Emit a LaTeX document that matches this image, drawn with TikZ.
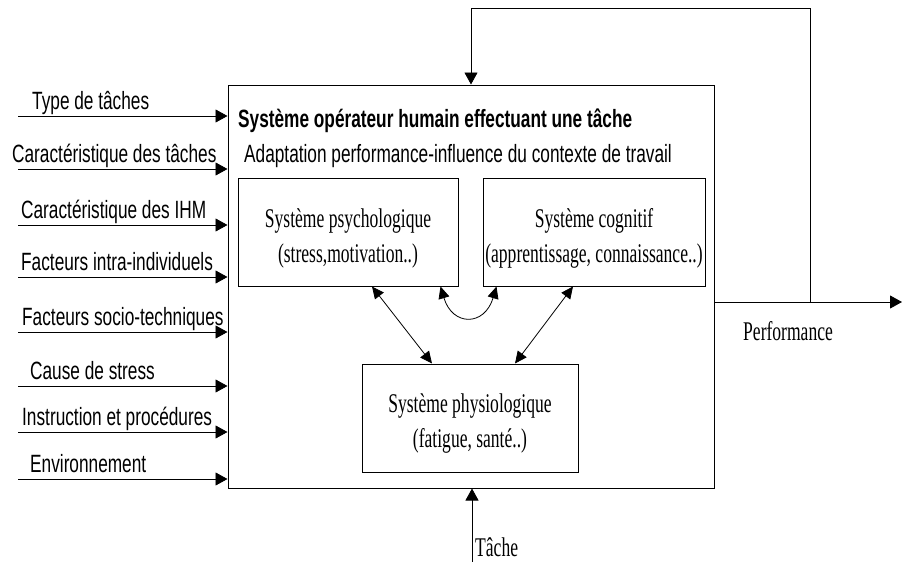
\documentclass[tikz,border=0pt]{standalone}
\usepackage{fontspec}
\newfontfamily\sansetroit{Liberation Sans}[FakeStretch=0.69]
\newfontfamily\serifetroit{Liberation Serif}[FakeStretch=0.65]
\usetikzlibrary{%
        arrows.meta%
    }

\begin{document}
\begin{tikzpicture}[x=1pt,y=-1pt,
    fleche/.style={-{Triangle[length=12pt,width=13pt]},line width=0.9pt},
    dfleche/.style={{Triangle[length=12pt,width=11pt]}-{Triangle[length=12pt,width=11pt]},line width=0.8pt},
    boite/.style={draw,line width=1pt,minimum height=108pt,inner sep=0pt},
    sans/.style={anchor=base west,inner sep=0pt,font=\sansetroit\fontsize{25}{29}\selectfont},
    serif/.style={anchor=base west,inner sep=0pt,font=\serifetroit\fontsize{27}{35}\selectfont},
    txt/.style={align=center,inner sep=0pt,yshift=-6pt,font=\serifetroit\fontsize{27}{35}\selectfont}]
  \useasboundingbox (0,0) rectangle (902,562);
  \node[boite,minimum width=486pt,minimum height=403pt] (sys) at (471,286.5) {};% operator system
  \node[anchor=base west,inner sep=0pt,font=\sansetroit\bfseries\fontsize{25}{29}\selectfont]
    (titre) at (238,127) {Système opérateur humain effectuant une tâche};
  \node[sans] (sous) at (244,162) {Adaptation performance-influence du contexte de travail};

  % sub-systems
  \node[boite,minimum width=220pt] (psych) at (348,232) {};
  \node[txt] (psychtxt) at (psych) {Système psychologique\\(stress,motivation..)};
  \node[boite,minimum width=222pt] (cog) at (594,232) {};
  \node[txt] (cogtxt) at (cog) {Système cognitif\\(apprentissage, connaissance..)};
  \node[boite,minimum width=216pt] (physio) at (470,418) {};
  \node[txt] (physiotxt) at (physio) {Système physiologique\\(fatigue, santé..)};

  \draw[dfleche] ([xshift=24pt]psych.south) -- ([xshift=-38pt]physio.north);
  \draw[dfleche] ([xshift=-21pt]cog.south) -- ([xshift=45pt]physio.north);
  \draw[dfleche] ([xshift=-18pt]psych.south east) .. controls +(12,40) and +(-12,40)
    .. ([xshift=14pt]cog.south west);

  % inputs
  \foreach \y/\x/\t [count=\i] in {116/32/Type de tâches,
      169/12/Caractéristique des tâches, 225/21/Caractéristique des IHM,
      277/21/Facteurs intra-individuels, 332/22/Facteurs socio-techniques,
      386/30/Cause de stress, 432/22/Instruction et procédures,
      479/30/Environnement}{
    \coordinate (e\i) at (18,\y);
    \draw[fleche] (e\i) -- (e\i -| sys.west);
    \node[sans] (lab\i) at (\x,\y-7) {\t};
  }

  % output and feedback
  \coordinate (sortie) at (902,302);
  \coordinate (retour) at (810,302);
  \coordinate (haut) at (810,8);
  \draw[fleche] (sys.east |- sortie) -- (sortie);
  \draw[fleche] (retour) -- (haut) -- (sys.north |- haut) -- (sys.north);
  \node[serif] (perf) at (743,340) {Performance};

  % task
  \coordinate (tache) at (472,562);
  \draw[fleche] (tache) -- (tache |- sys.south);
  \node[serif] (tachetxt) at (475,556) {Tâche};
\end{tikzpicture}
\end{document}
